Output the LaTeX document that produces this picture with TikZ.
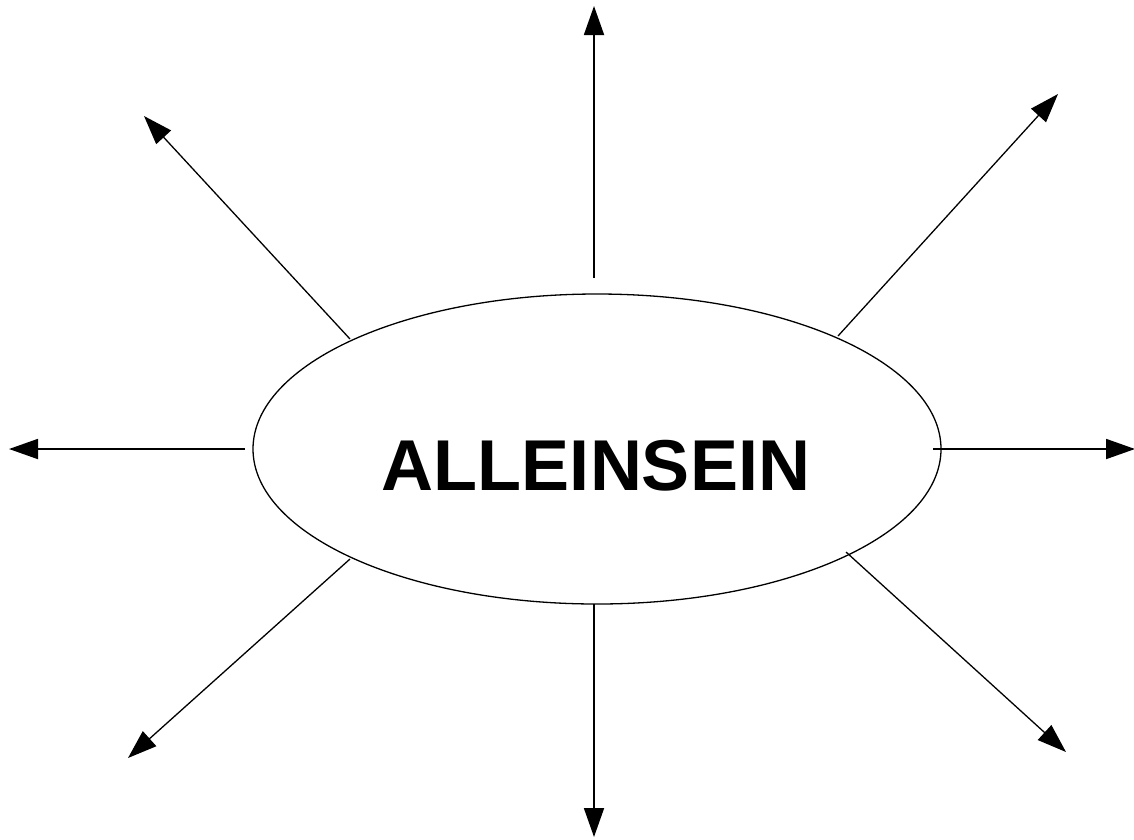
\documentclass[tikz,border=0pt]{standalone}
\usepackage{fontspec}
\setmainfont{Liberation Sans}
\usetikzlibrary{arrows.meta,shapes.geometric}
\begin{document}
\begin{tikzpicture}[x=1pt,y=-1pt,
  ray/.style={line width=1.3pt,-{Triangle[length=29pt,width=20pt]}},
  axisray/.style={ray,line width=1.8pt},
  blob/.style={draw,ellipse,line width=1.3pt,minimum width=688pt,minimum height=310pt,inner sep=0pt}]
\useasboundingbox (0,0) rectangle (1134,839);
\node[blob] (e) at (597,449) {};
\node[anchor=base,inner sep=0pt] (t) at (596,490) {\fontsize{72}{86}\selectfont\bfseries ALLEINSEIN};
% start points
\coordinate (sN) at (594,278);
\coordinate (sS) at (594,604);
\coordinate (sW) at (245,449);
\coordinate (sE) at (933,449);
\coordinate (sNW) at (350,339);
\coordinate (sNE) at (838,336);
\coordinate (sSW) at (350,559);
\coordinate (sSE) at (846,552);
% end points
\coordinate (eN) at (594,6);
\coordinate (eS) at (594,837);
\coordinate (eW) at (9,449);
\coordinate (eE) at (1135,449);
\coordinate (eNW) at (144,116);
\coordinate (eNE) at (1058,94);
\coordinate (eSW) at (128,758);
\coordinate (eSE) at (1066,752);
\foreach \d in {N,S,W,E}{\draw[axisray] (s\d) -- (e\d);}
\foreach \d in {NW,NE,SW,SE}{\draw[ray] (s\d) -- (e\d);}
\end{tikzpicture}
\end{document}
